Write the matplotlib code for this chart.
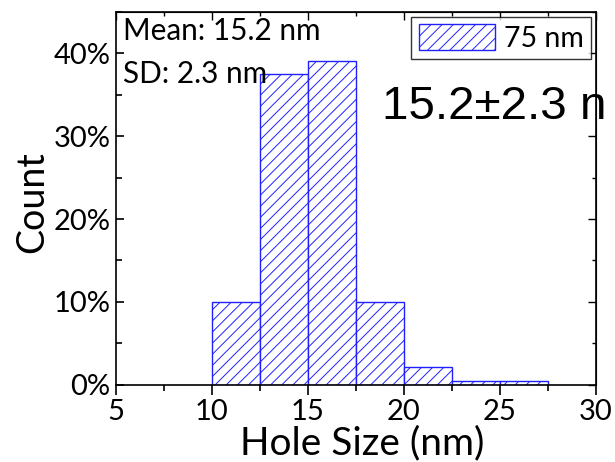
import matplotlib
matplotlib.use("Agg")
import matplotlib.pyplot as plt
from matplotlib.ticker import MultipleLocator, FuncFormatter
from matplotlib.transforms import IdentityTransform, Bbox, TransformedBbox

bin_left = [10, 12.5, 15, 17.5, 20, 22.5, 25]
bin_width = 2.5
percent = [10, 37.5, 39.1, 10, 2.1, 0.5, 0.5]

plt.rcParams['font.family'] = ['Lato', 'DejaVu Sans']
plt.rcParams['hatch.linewidth'] = 0.7

fig = plt.figure(figsize=(6.15, 4.62), dpi=100)
ax = fig.add_axes([0.1886, 0.1673, 0.969 - 0.1886, 0.974 - 0.1673])

ax.bar(bin_left, percent, width=bin_width, align='edge', facecolor='white',
       edgecolor='#2020ff', hatch='///', linewidth=1.0, label='75 nm')

ax.set_xlim(5, 30)
ax.set_ylim(0, 45)
ax.xaxis.set_major_locator(MultipleLocator(5))
ax.xaxis.set_minor_locator(MultipleLocator(2.5))
ax.yaxis.set_major_locator(MultipleLocator(10))
ax.yaxis.set_minor_locator(MultipleLocator(5))
ax.yaxis.set_major_formatter(FuncFormatter(lambda v, p: f"{v:.0f}%"))

ax.tick_params(which='both', top=False, right=False, labelsize=21, width=1.2)
ax.tick_params(axis='x', which='both', direction='out')
ax.tick_params(axis='y', which='both', direction='in', pad=4)
ax.tick_params(axis='x', which='major', length=7, pad=3)
ax.tick_params(which='minor', length=4)
ax.tick_params(axis='y', which='major', length=6)
sec = ax.secondary_xaxis('top')
sec.xaxis.set_major_locator(MultipleLocator(5))
sec.xaxis.set_minor_locator(MultipleLocator(2.5))
sec.tick_params(which='both', direction='in', labeltop=False, width=1)
sec.tick_params(which='major', length=6)
sec.tick_params(which='minor', length=3)
sec2 = ax.secondary_yaxis('right')
sec2.yaxis.set_major_locator(MultipleLocator(10))
sec2.yaxis.set_minor_locator(MultipleLocator(5))
sec2.tick_params(which='both', direction='in', labelright=False, width=1)
sec2.tick_params(which='major', length=6)
sec2.tick_params(which='minor', length=3)
for s in ax.spines.values():
    s.set_linewidth(1.2)

ax.set_xlabel('Hole Size (nm)', fontsize=28)
ax.xaxis.label.set_va('baseline')
ax.xaxis.set_label_coords(362, 8, transform=IdentityTransform())
ax.set_ylabel('Count', fontsize=27)
ax.yaxis.set_label_coords(50, 462 - 202.5, transform=IdentityTransform())

ax.text(123 / 615, 1 - 40 / 462, 'Mean: 15.2 nm', transform=fig.transFigure,
        fontsize=21.4, va='baseline', ha='left')
ax.text(123 / 615, 1 - 83 / 462, 'SD: 2.3 nm', transform=fig.transFigure,
        fontsize=21.4, va='baseline', ha='left')

t = ax.text(18.85, 32.1, '15.2±2.3 nm', fontsize=34.2, family='Liberation Sans',
            va='baseline', ha='left')
t.set_clip_box(TransformedBbox(Bbox([[0, 0], [607 / 615, 1]]), fig.transFigure))
t.set_clip_on(True)

leg = ax.legend(loc='upper right', fontsize=20.5, frameon=True, fancybox=False,
                edgecolor='black', handlelength=2.7, handleheight=1.0,
                borderaxespad=0.175, borderpad=0.25, handletextpad=0.3)
leg.get_frame().set_linewidth(1.0)

fig.savefig('out.png', dpi=100)
